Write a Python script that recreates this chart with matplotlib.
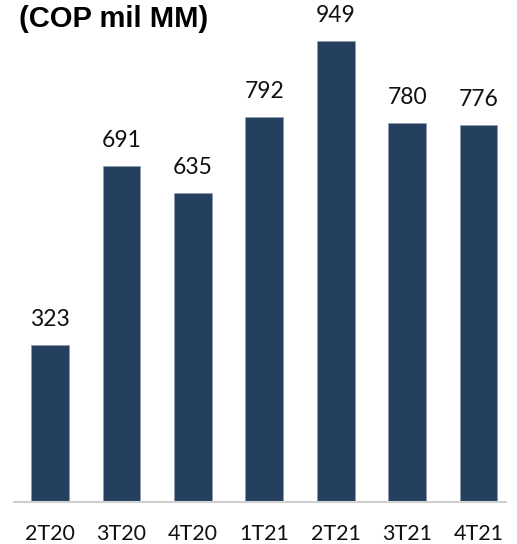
import matplotlib.pyplot as plt

# Quarterly figures, COP thousands of millions
quarters = ["2T20", "3T20", "4T20", "1T21", "2T21", "3T21", "4T21"]
values = [323, 691, 635, 792, 949, 780, 776]

bar_color = "#253f5f"
label_font = ["Lato", "DejaVu Sans"]

fig = plt.figure(figsize=(5.17, 5.44), dpi=100)
ax = fig.add_axes([14 / 517, 42 / 544, 492 / 517, 486 / 544])

x = list(range(len(quarters)))
bars = ax.bar(x, values, width=0.53, color=bar_color, edgecolor="#8a9bb0", linewidth=0.4, zorder=2)

for xi, v in zip(x, values):
    ax.annotate(f"{v}", (xi, v), xytext=(0, 11), textcoords="offset points",
                ha="center", va="bottom", fontsize=16.5, family=label_font, color="#111111")

ax.set_xlim(-0.505, 6.385)
ax.set_ylim(0, 1000)
ax.set_xticks(x)
ax.set_xticklabels(quarters, fontsize=15.5, family=label_font, color="#111111")
ax.tick_params(axis="x", length=0, pad=16)
ax.set_yticks([])

for side in ["top", "right", "left"]:
    ax.spines[side].set_visible(False)
ax.spines["bottom"].set_color("#d0d0d0")
ax.spines["bottom"].set_linewidth(1.5)

fig.text(19 / 517, 1 - 19 / 544, "(COP mil MM)", fontsize=21, fontweight="bold",
         family="Liberation Sans", ha="left", va="center")

fig.savefig("out.png", dpi=100)
